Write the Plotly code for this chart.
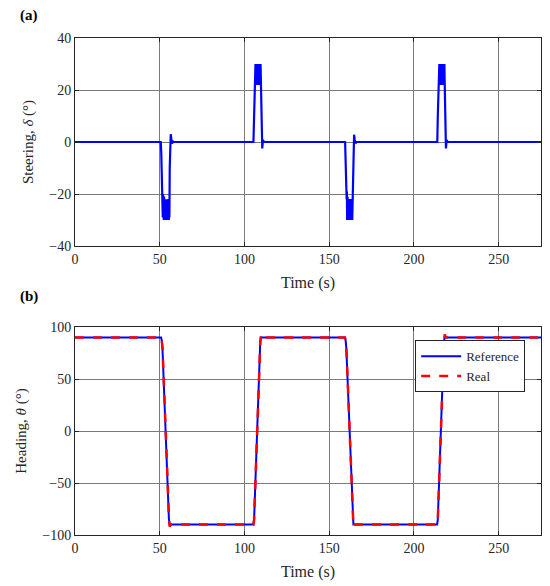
import plotly.graph_objects as go
from plotly.subplots import make_subplots

# ---------------- data ----------------
# steering angle (deg) vs time (s) as (time, value) pairs per manoeuvre
steer_idle_start = [(0, 0), (50.6, 0)]
steer_turn1 = [(50.9, -4), (51.2, -14), (51.5, -21), (51.8, -29), (51.95, -20), (52.1, -30),
               (52.25, -22), (52.4, -30), (52.55, -21), (52.7, -30), (52.85, -23), (53.0, -30),
               (53.15, -22), (53.3, -30), (53.45, -24), (53.6, -30), (53.75, -22), (53.9, -30),
               (54.05, -23), (54.2, -30), (54.35, -22), (54.5, -30), (54.65, -24), (54.8, -30),
               (54.95, -23), (55.1, -30), (55.25, -22), (55.4, -30), (55.55, -25), (55.7, -29),
               (55.9, -10), (56.1, 0.5), (56.5, 3), (56.9, 1), (57.3, -0.6), (57.8, 0.2),
               (58.5, 0), (105.3, 0)]
steer_turn2 = [(105.6, 10), (105.9, 21), (106.2, 30), (106.35, 22), (106.5, 30), (106.65, 23),
               (106.8, 30), (106.95, 22), (107.1, 30), (107.25, 24), (107.4, 30), (107.55, 22),
               (107.7, 30), (107.85, 23), (108.0, 30), (108.15, 22), (108.3, 30), (108.45, 24),
               (108.6, 30), (108.75, 22), (108.9, 30), (109.05, 23), (109.2, 30), (109.35, 22),
               (109.5, 30), (109.65, 25), (109.9, 18), (110.2, 0), (110.5, -2.5), (110.9, 0.8),
               (111.5, 0), (159.4, 0)]
steer_turn3 = [(159.7, -5), (160.0, -15), (160.3, -22), (160.45, -19), (160.6, -30), (160.75, -21),
               (160.9, -30), (161.05, -23), (161.2, -30), (161.35, -22), (161.5, -30), (161.65, -24),
               (161.8, -30), (161.95, -22), (162.1, -30), (162.25, -23), (162.4, -30), (162.55, -22),
               (162.7, -30), (162.85, -24), (163.0, -30), (163.15, -23), (163.3, -30), (163.45, -22),
               (163.6, -30), (163.75, -25), (163.9, -29), (164.05, -20), (164.2, -8), (164.4, 1),
               (164.7, 2.8), (165.1, 0.8), (165.5, -0.5), (166.2, 0), (213.8, 0)]
steer_turn4 = [(214.1, 10), (214.4, 21), (214.7, 30), (214.85, 22), (215.0, 30), (215.15, 23),
               (215.3, 30), (215.45, 22), (215.6, 30), (215.75, 24), (215.9, 30), (216.05, 22),
               (216.2, 30), (216.35, 23), (216.5, 30), (216.65, 22), (216.8, 30), (216.95, 24),
               (217.1, 30), (217.25, 22), (217.4, 30), (217.55, 23), (217.7, 30), (217.85, 22),
               (218.0, 30), (218.1, 25), (218.3, 18), (218.6, 0), (218.9, -2.5), (219.3, 0.7),
               (220.0, 0), (275, 0)]

ref_time = [0, 50.8, 51.2, 51.6, 55.4, 55.8, 105.3, 105.7, 109.3, 109.7, 159.3, 159.7,
            160.1, 163.9, 164.3, 213.7, 214.1, 217.7, 218.1, 275]
ref_heading = [90, 90, 87, 80, -84, -90, -90, -85, 85, 90, 90, 87,
               80, -84, -90, -90, -85, 85, 90, 90]

real_time = [0, 50.8, 51.2, 51.7, 55.5, 55.9, 56.3, 56.9, 105.3, 105.7, 109.4, 109.8, 110.2,
             110.8, 159.3, 159.7, 160.2, 163.9, 164.3, 164.7, 165.3, 213.7, 214.1, 217.8,
             218.2, 218.6, 219.2, 275]
real_heading = [90, 90, 87, 78, -85, -92, -90.5, -90, -90, -85, 86, 93, 91,
                90, 90, 87, 78, -85, -92, -90.5, -90, -90, -85, 86,
                93, 91, 90, 90]

x_ticks = [0, 50, 100, 150, 200, 250]
steer_ticks = [-40, -20, 0, 20, 40]
heading_ticks = [-100, -50, 0, 50, 100]

steer_points = steer_idle_start + steer_turn1 + steer_turn2 + steer_turn3 + steer_turn4
steer_time = [p[0] for p in steer_points]
steer_deg = [p[1] for p in steer_points]

# ---------------- figure ----------------
FONT = "Liberation Serif"
INK = "#262626"
fig = make_subplots(rows=2, cols=1, vertical_spacing=0.163)

fig.add_trace(go.Scatter(x=steer_time, y=steer_deg, mode="lines",
                         line=dict(color="#0000ff", width=2.2), showlegend=False),
              row=1, col=1)
fig.add_trace(go.Scatter(x=ref_time, y=ref_heading, mode="lines", name="Reference",
                         line=dict(color="#0000ff", width=2)), row=2, col=1)
fig.add_trace(go.Scatter(x=real_time, y=real_heading, mode="lines", name="Real",
                         line=dict(color="#ff0000", width=2.5, dash="dash")), row=2, col=1)

axis_common = dict(showline=True, linecolor=INK, linewidth=1, mirror="ticks",
                   ticks="inside", ticklen=4, tickcolor=INK,
                   showgrid=True, gridcolor="#7a7a7a", gridwidth=1, zeroline=False,
                   tickfont=dict(family=FONT, size=14, color=INK))

for r in (1, 2):
    fig.update_xaxes(range=[0, 275], tickvals=x_ticks,
                     title=dict(text="Time (s)", font=dict(family=FONT, size=16, color=INK),
                                standoff=11),
                     row=r, col=1, **axis_common)

fig.update_yaxes(range=[-40, 40], tickvals=steer_ticks,
                 title=dict(text="Steering, <i>δ</i> (°)",
                            font=dict(family=FONT, size=15, color=INK), standoff=12),
                 row=1, col=1, **axis_common)
fig.update_yaxes(range=[-100, 100], tickvals=heading_ticks,
                 title=dict(text="Heading, <i>θ</i> (°)",
                            font=dict(family=FONT, size=15, color=INK), standoff=12),
                 row=2, col=1, **axis_common)

fig.update_layout(
    width=550, height=586,
    margin=dict(l=61, r=17, t=30, b=59),
    plot_bgcolor="white", paper_bgcolor="white",
    legend=dict(x=0.73, y=0.392, xanchor="left", yanchor="top",
                bgcolor="white", bordercolor=INK, borderwidth=1,
                font=dict(family=FONT, size=13, color=INK),
                tracegroupgap=0, itemwidth=40),
    annotations=[
        dict(text="<b>(a)</b>", x=-0.122, y=1.046, xref="paper", yref="paper",
             xanchor="left", yanchor="middle", showarrow=False,
             font=dict(family=FONT, size=15, color="black")),
        dict(text="<b>(b)</b>", x=-0.122, y=0.479, xref="paper", yref="paper",
             xanchor="left", yanchor="middle", showarrow=False,
             font=dict(family=FONT, size=15, color="black")),
    ],
)

fig.write_html("out.html")
